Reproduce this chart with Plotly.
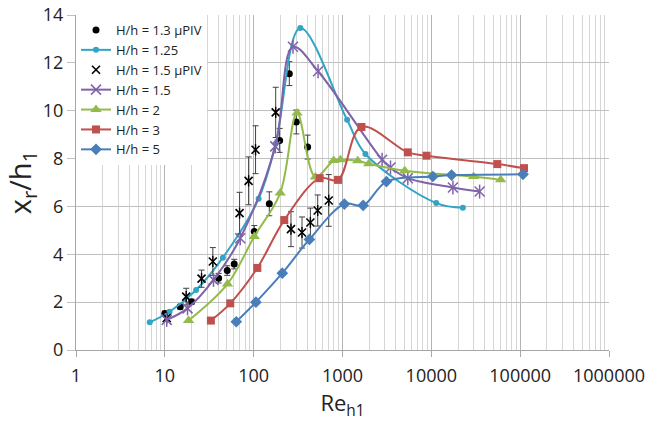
import plotly.graph_objects as go

# ---- data ----
re_piv13 = [10, 14.9, 20, 40.3, 50.4, 60.4, 101.6, 150, 196, 252, 302, 405]
xr_piv13 = [1.53, 1.81, 2.02, 3.0, 3.32, 3.59, 4.95, 6.11, 8.76, 11.55, 9.53, 8.48]
err_piv13 = [0.1, 0.1, 0.1, 0.2, 0.2, 0.2, 0.25, 0.5, 0.5, 0.5, 0.5, 0.5]

re_125 = [6.77, 11.3, 22.5, 45, 113.6, 177, 335, 1127, 1811, 11360, 22660]
xr_125 = [1.16, 1.6, 2.51, 3.86, 6.32, 8.62, 13.46, 9.62, 8.19, 6.14, 5.95]

re_piv15 = [10.5, 17.4, 25.9, 34.7, 69.4, 87.7, 105, 177, 263, 350, 435, 526, 700]
xr_piv15 = [1.33, 2.23, 2.98, 3.7, 5.72, 7.07, 8.37, 9.93, 5.05, 4.91, 5.33, 5.83, 6.25]
err_piv15 = [0.1, 0.35, 0.36, 0.58, 0.87, 1.0, 1.0, 1.05, 0.73, 0.65, 0.6, 0.65, 1.08]

re_15 = [10.5, 18, 35.3, 70.6, 175, 277, 531, 2793, 3470, 5435, 17500, 34950]
xr_15 = [1.26, 1.74, 2.93, 4.67, 8.51, 12.67, 11.65, 7.95, 7.63, 7.18, 6.79, 6.62]

re_2 = [18.5, 50.8, 101.6, 199, 308, 495, 796, 947, 1483, 1974, 5025, 29900, 60300]
xr_2 = [1.23, 2.76, 4.74, 6.56, 9.9, 7.23, 7.92, 7.95, 7.91, 7.78, 7.49, 7.25, 7.11]

re_3 = [33, 54.5, 110, 221, 553, 891, 1633, 5435, 8830, 55300, 110400]
xr_3 = [1.23, 1.95, 3.43, 5.43, 7.18, 7.11, 9.32, 8.26, 8.12, 7.77, 7.6]

re_5 = [63.7, 106, 210, 424, 1050, 1708, 3126, 10400, 16900, 107700]
xr_5 = [1.18, 2.0, 3.21, 4.62, 6.1, 6.04, 7.04, 7.25, 7.31, 7.34]

x_tickvals = [1, 10, 100, 1000, 10000, 100000, 1000000]
x_ticktext = ["1", "10", "100", "1000", "10000", "100000", "1000000"]

FONT = "Open Sans"
TXT = "#222222"
C125, C15, C2, C3, C5 = "#31A5C4", "#7F63A8", "#93BB4C", "#C0504D", "#4A7EBB"

fig = go.Figure()

fig.add_trace(go.Scatter(
    x=re_piv13, y=xr_piv13, mode="markers", name="H/h = 1.3 \u03bcPIV",
    marker=dict(symbol="circle", size=7, color="black"),
    error_y=dict(type="data", array=err_piv13, color="#404040", thickness=1, width=3)))

fig.add_trace(go.Scatter(
    x=re_125, y=xr_125, mode="lines+markers", name="H/h = 1.25",
    line=dict(color=C125, width=2, shape="spline", smoothing=1),
    marker=dict(symbol="circle", size=6, color=C125)))

fig.add_trace(go.Scatter(
    x=re_piv15, y=xr_piv15, mode="markers", name="H/h = 1.5 \u03bcPIV", legendgroup="p15",
    marker=dict(symbol="x-thin-open", size=8, color="black", line=dict(color="black", width=1.6)),
    error_y=dict(type="data", array=err_piv15, color="#404040", thickness=1, width=3)))
fig.add_trace(go.Scatter(
    x=re_piv15, y=xr_piv15, mode="markers", showlegend=False, legendgroup="p15", hoverinfo="skip",
    marker=dict(symbol="line-ns-open", size=8, color="black", line=dict(color="black", width=1.4))))

fig.add_trace(go.Scatter(
    x=re_15, y=xr_15, mode="lines+markers", name="H/h = 1.5", legendgroup="s15",
    line=dict(color=C15, width=2, shape="spline", smoothing=1),
    marker=dict(symbol="x-thin-open", size=10, color=C15, line=dict(color=C15, width=1.5))))
fig.add_trace(go.Scatter(
    x=re_15, y=xr_15, mode="markers", showlegend=False, legendgroup="s15", hoverinfo="skip",
    marker=dict(symbol="line-ns-open", size=10, color=C15, line=dict(color=C15, width=1.5))))

fig.add_trace(go.Scatter(
    x=re_2, y=xr_2, mode="lines+markers", name="H/h = 2",
    line=dict(color=C2, width=2, shape="spline", smoothing=1),
    marker=dict(symbol="triangle-up", size=10, color=C2)))

fig.add_trace(go.Scatter(
    x=re_3, y=xr_3, mode="lines+markers", name="H/h = 3",
    line=dict(color=C3, width=2, shape="spline", smoothing=1),
    marker=dict(symbol="square", size=8, color=C3)))

fig.add_trace(go.Scatter(
    x=re_5, y=xr_5, mode="lines+markers", name="H/h = 5",
    line=dict(color=C5, width=2, shape="spline", smoothing=1),
    marker=dict(symbol="diamond", size=9, color=C5)))

fig.update_layout(
    width=664, height=422,
    margin=dict(l=76, r=55, t=15, b=72, autoexpand=False),
    paper_bgcolor="white", plot_bgcolor="white",
    font=dict(family=FONT, color=TXT),
    showlegend=True,
    legend=dict(x=0.0, y=1.0, xanchor="left", yanchor="top",
                bgcolor="white", borderwidth=0,
                font=dict(family=FONT, size=13, color=TXT),
                tracegroupgap=0, itemwidth=30),
)

fig.update_xaxes(
    type="log", range=[0, 6], automargin=False,
    tickvals=x_tickvals, ticktext=x_ticktext,
    tickfont=dict(family=FONT, size=18, color=TXT),
    ticklabelstandoff=3,
    showgrid=True, gridcolor="#b4b4b4", gridwidth=1,
    minor=dict(dtick="D1", showgrid=True, gridcolor="#d6d6d6", gridwidth=1, ticks=""),
    showline=True, linecolor="#a6a6a6", linewidth=1,
    ticks="outside", ticklen=6, tickcolor="#a6a6a6",
    zeroline=False,
    title=dict(text="Re<sub>h1</sub>", font=dict(family=FONT, size=22, color=TXT), standoff=10),
)

fig.update_yaxes(
    range=[0, 14], dtick=2, tick0=0, automargin=False,
    tickfont=dict(family=FONT, size=18, color=TXT),
    showgrid=True, gridcolor="#c0c0c0", gridwidth=1,
    showline=True, linecolor="#a6a6a6", linewidth=1,
    ticks="outside", ticklen=8, tickcolor="#c0c0c0",
    zeroline=False,
    title=dict(text="x<sub>r</sub>/h<sub>1</sub>", font=dict(family=FONT, size=29, color=TXT), standoff=2),
)

fig.write_html("out.html")
